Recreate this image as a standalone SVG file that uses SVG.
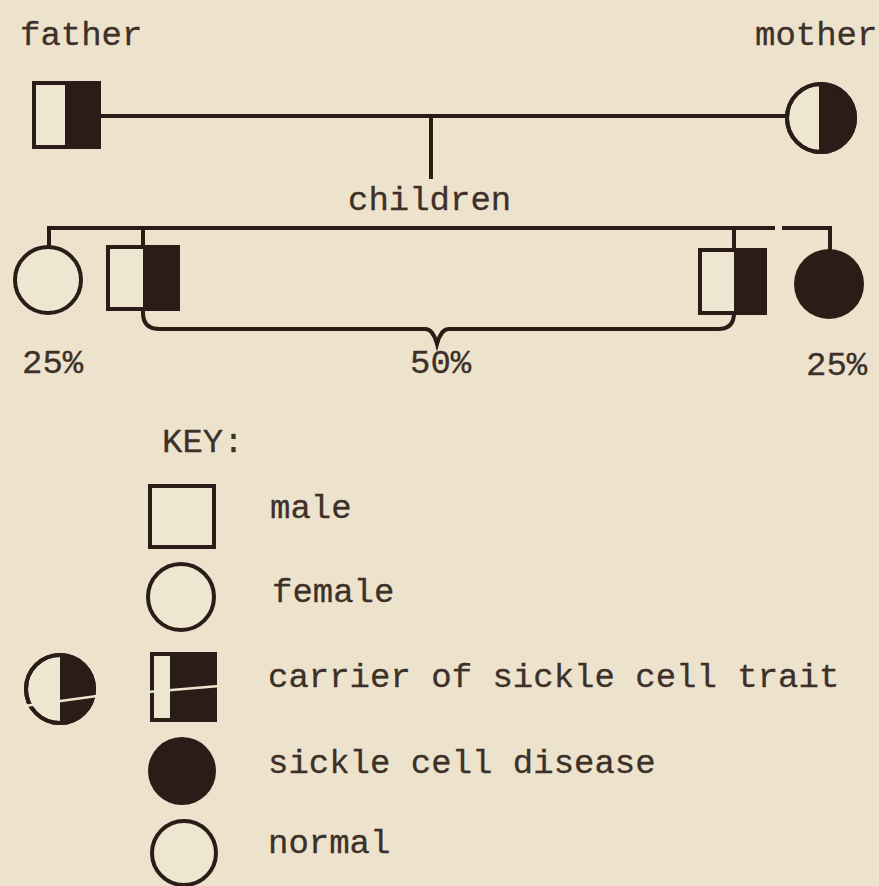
<svg xmlns="http://www.w3.org/2000/svg" width="879" height="886" viewBox="0 0 879 886">
<style>
.bg{fill:#ede3cd}
.ln{fill:none;stroke:#2a1c17;stroke-width:4;stroke-linecap:square}
.sh{fill:#efe6d2;stroke:#2a1c17;stroke-width:4}
.dk{fill:#2a1c17}
.ol{fill:none;stroke:#2a1c17;stroke-width:4}
.brk{fill:none;stroke:#efe6d2;stroke-width:2.5}
text{font-family:"Liberation Mono","Courier New",monospace;font-size:34px;fill:#3d3029;stroke:#3d3029;stroke-width:0.3}
</style>
<rect class="bg" x="0" y="0" width="879" height="886"/>

<g id="connectors">
  <line class="ln" x1="99" y1="116" x2="787" y2="116"/>
  <line class="ln" x1="431" y1="116" x2="431" y2="177"/>
  <path class="ln" d="M49,247 L49,228 L773,228"/>
  <path class="ln" d="M784,228 L830,228 L830,250"/>
  <line class="ln" x1="143" y1="228" x2="143" y2="247"/>
  <line class="ln" x1="734" y1="228" x2="734" y2="250"/>
  <path class="ln" d="M143,313 Q143,329 160,329 L425,329 Q433,329 437,344 Q441,329 449,329 L718,329 Q734,329 734,313" stroke-linecap="butt"/>
</g>

<g id="father">
  <text x="20" y="45">father</text>
  <rect class="sh" x="34" y="83" width="65" height="64"/>
  <rect class="dk" x="65" y="83" width="34" height="64"/>
  <rect class="ol" x="34" y="83" width="65" height="64"/>
</g>

<g id="mother">
  <text x="755" y="45">mother</text>
  <circle class="sh" cx="821" cy="118" r="34"/>
  <path class="dk" d="M821,84 A34,34 0 0 1 821,152 Z"/>
  <circle class="ol" cx="821" cy="118" r="34"/>
  <line class="ln" x1="821" y1="84" x2="821" y2="152" stroke-width="2.5"/>
</g>

<g id="children-label">
  <text x="348" y="210">children</text>
</g>

<g id="child-normal-female">
  <circle class="sh" cx="48" cy="280" r="33"/>
  <text x="22" y="373">25%</text>
</g>

<g id="child-carrier-male-1">
  <rect class="sh" x="108" y="247" width="70" height="62"/>
  <rect class="dk" x="143" y="247" width="35" height="62"/>
  <rect class="ol" x="108" y="247" width="70" height="62"/>
</g>

<g id="child-carrier-male-2">
  <rect class="sh" x="700" y="250" width="65" height="63"/>
  <rect class="dk" x="734" y="250" width="31" height="63"/>
  <rect class="ol" x="700" y="250" width="65" height="63"/>
</g>

<g id="label-50">
  <text x="410" y="373">50%</text>
</g>

<g id="child-disease-female">
  <circle class="dk" cx="829" cy="284" r="35"/>
  <text x="806" y="375">25%</text>
</g>

<g id="key">
  <text x="162" y="452">KEY:</text>
  <g id="key-male">
    <rect class="sh" x="150" y="486" width="64" height="61"/>
    <text x="270" y="518">male</text>
  </g>
  <g id="key-female">
    <circle class="sh" cx="181" cy="597" r="33"/>
    <text x="272" y="602">female</text>
  </g>
  <g id="key-carrier">
    <circle class="sh" cx="60" cy="689" r="34"/>
    <path class="dk" d="M60,655 A34,34 0 0 1 60,723 Z"/>
    <circle class="ol" cx="60" cy="689" r="34"/>
    <line class="brk" x1="24" y1="706" x2="97" y2="696"/>
    <rect class="sh" x="152" y="654" width="63" height="66"/>
    <rect class="dk" x="170" y="654" width="45" height="66"/>
    <rect class="ol" x="152" y="654" width="63" height="66"/>
    <line class="brk" x1="148" y1="692" x2="219" y2="686"/>
    <text x="268" y="687">carrier of sickle cell trait</text>
  </g>
  <g id="key-disease">
    <circle class="dk" cx="182" cy="771" r="34"/>
    <text x="268" y="773">sickle cell disease</text>
  </g>
  <g id="key-normal">
    <circle class="sh" cx="184" cy="853" r="32"/>
    <text x="268" y="853">normal</text>
  </g>
</g>
</svg>
